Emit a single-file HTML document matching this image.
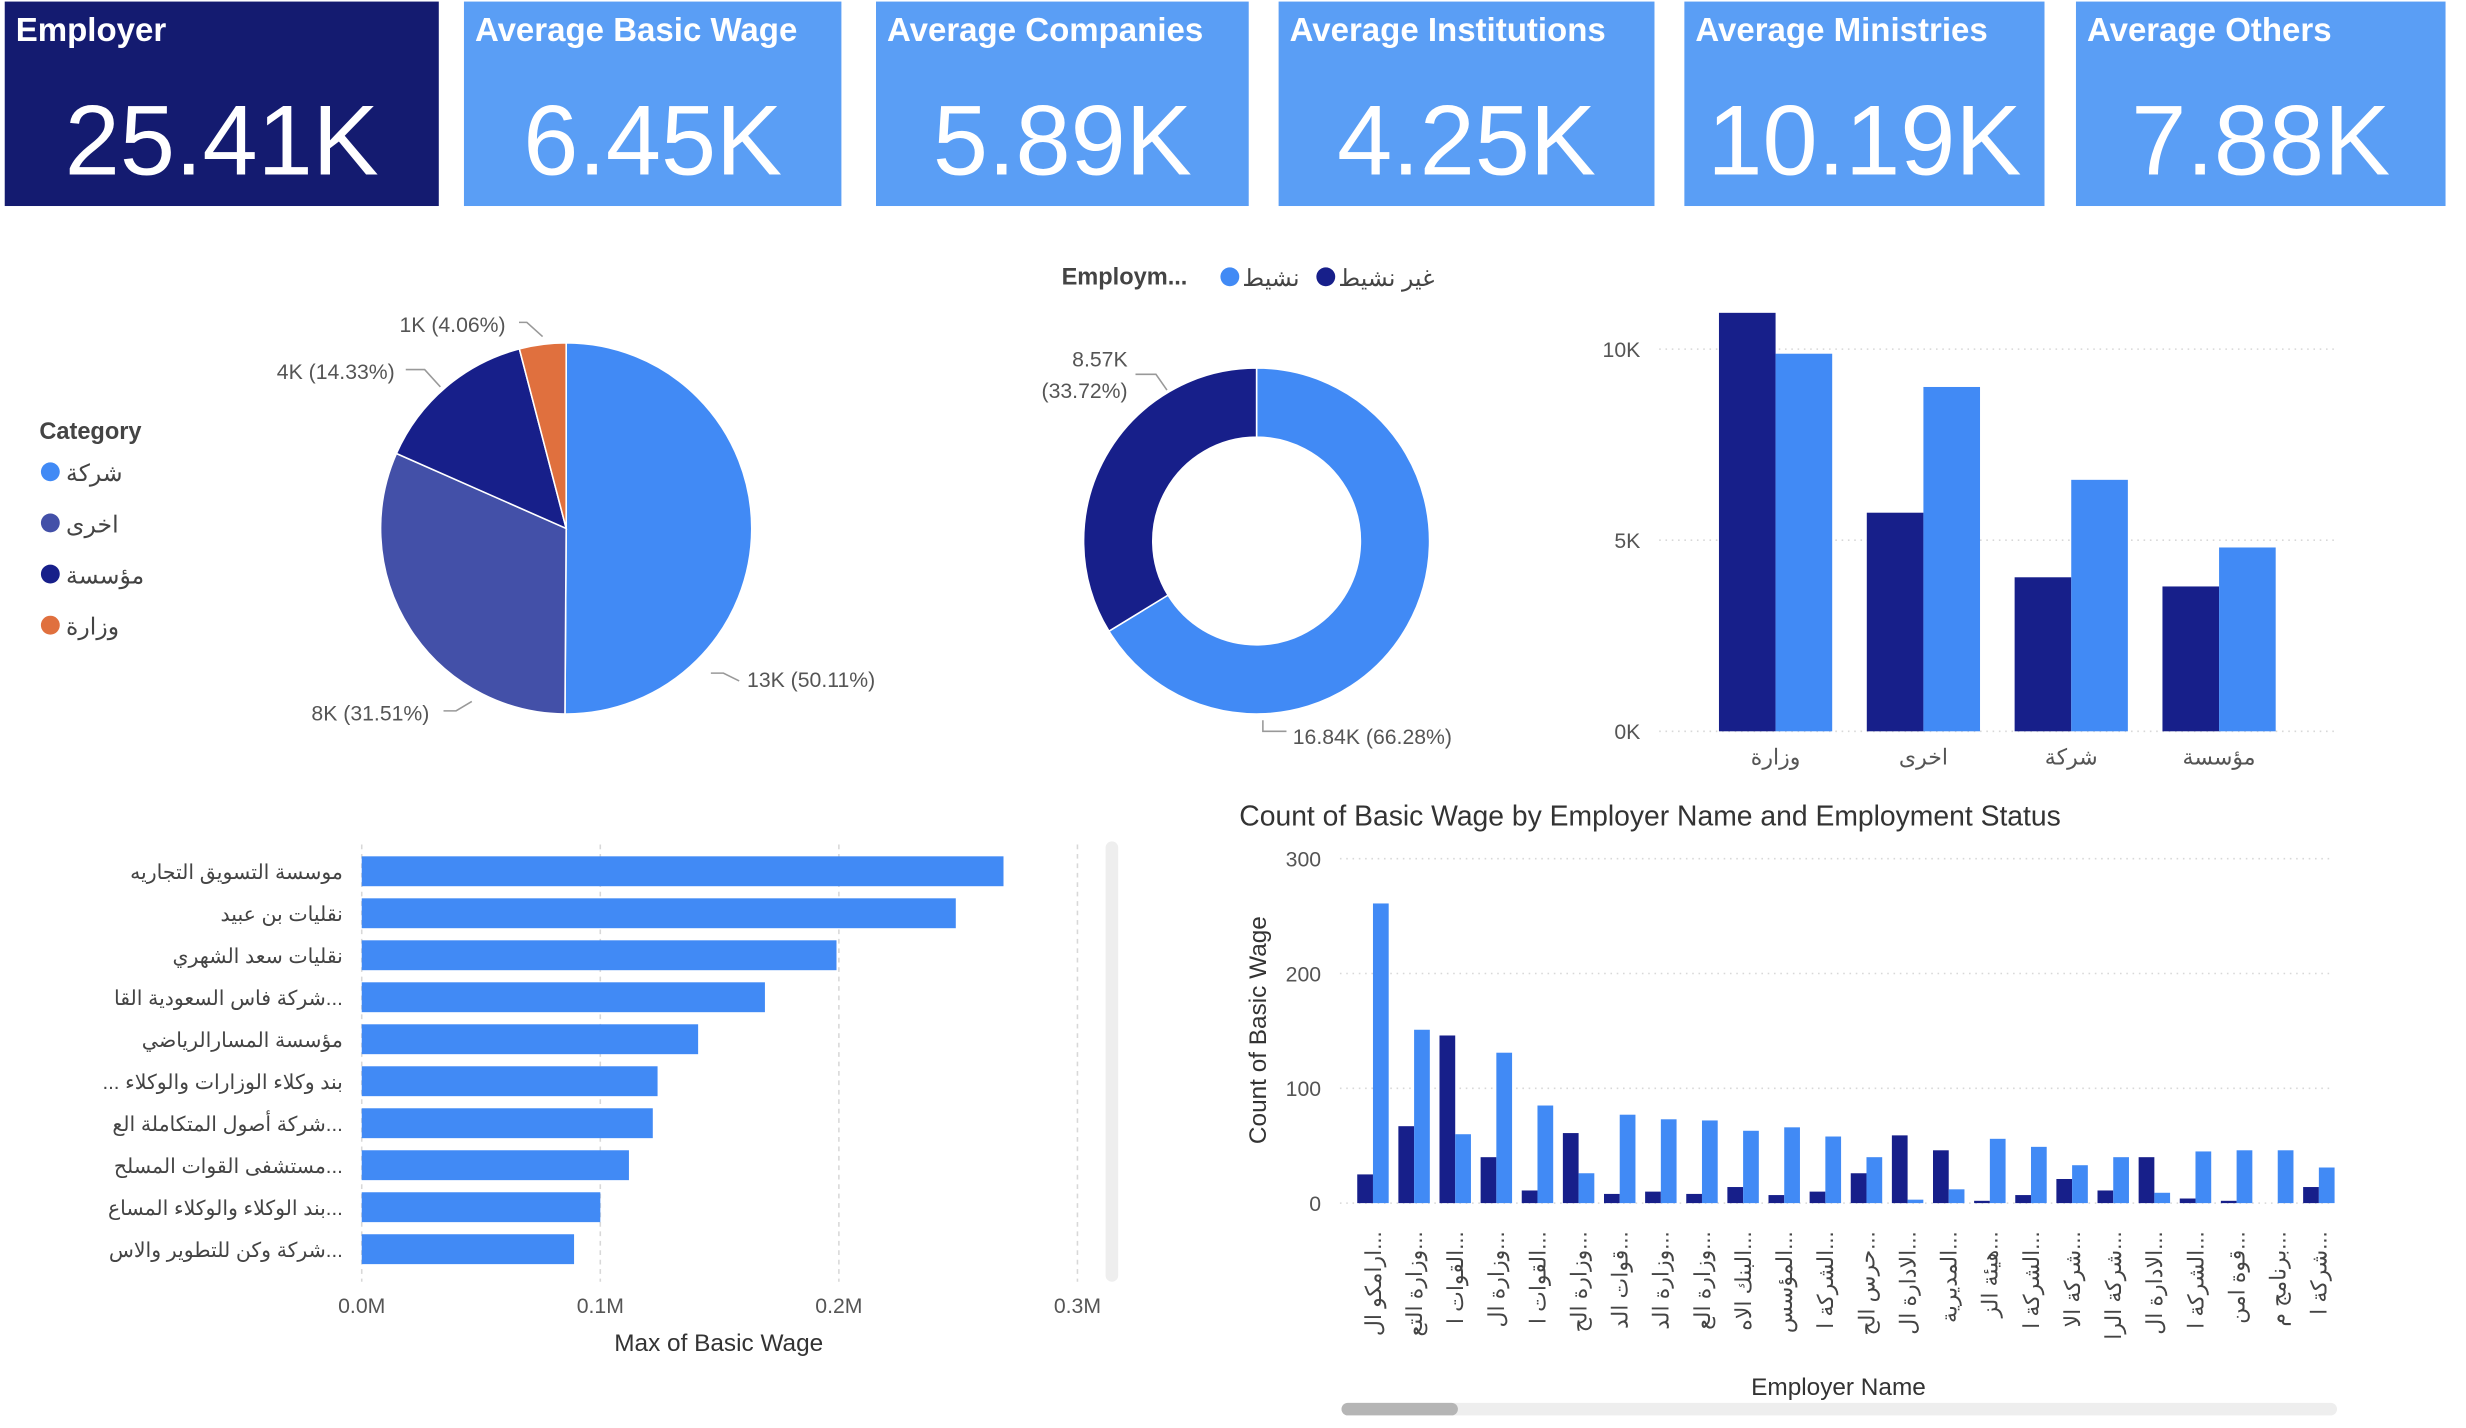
<!DOCTYPE html>
<html><head><meta charset="utf-8"><style>
html,body{margin:0;padding:0;background:#fff;}
svg{display:block;font-family:"Liberation Sans","Noto Sans CJK SC",sans-serif;}
</style></head><body>
<svg id="root" width="2466" height="1428" viewBox="0 0 1568 908" xmlns="http://www.w3.org/2000/svg">
<g id="kpis"></g>
<g id="pie"></g>
<g id="donut"></g>
<g id="col"></g>
<g id="hbar"></g>
<g id="cnt"></g>
</svg>
<script>
// ---- data ----
const kpiTitles=["Employer","Average Basic Wage","Average Companies","Average Institutions","Average Ministries","Average Others"];
const kpiValues=["25.41K","6.45K","5.89K","4.25K","10.19K","7.88K"];
const pieCats=["شركة","اخرى","مؤسسة","وزارة"];
const pieVals=[13,8,4,1];
const piePct=[50.11,31.51,14.33,4.06];
const donutCats=["نشيط","غير نشيط"];
const donutVals=[16.84,8.57];
const donutPct=[66.28,33.72];
const colCats=["وزارة","اخرى","شركة","مؤسسة"];
const colInactive=[10.95,5.72,4.03,3.79];
const colActive=[9.88,9.01,6.58,4.81];
const colTicks=[0,5,10];
const hbarCats=["موسسة التسويق التجاريه","نقليات بن عبيد","نقليات سعد الشهري","شركة فاس السعودية القا...","مؤسسة المسارالرياضي","... بند وكلاء الوزارات والوكلاء","شركة أصول المتكاملة الع...","مستشفى القوات المسلح...","بند الوكلاء والوكلاء المساع...","شركة وكن للتطوير والاس..."];
const hbarVals=[0.269,0.249,0.199,0.169,0.141,0.124,0.122,0.112,0.100,0.089];
const hbarTicks=[0,0.1,0.2,0.3];
const cntCats=["ارامكو ال...","وزارة التع...","القوات ا...","وزارة ال...","القوات ا...","وزارة الح...","قوات الد...","وزارة الد...","وزارة الع...","البنك الاه...","المؤسس...","الشركة ا...","حرس الح...","الادارة ال...","المديرية...","هيئة الز...","الشركة ا...","شركة الا...","شركة الرا...","الادارة ال...","الشركة ا...","قوة امن...","برنامج م...","شركة ا..."];
const cntInactive=[25,67,146,40,11,61,8,10,8,14,7,10,26,59,46,2,7,21,11,40,4,2,0,14];
const cntActive=[261,151,60,131,85,26,77,73,72,63,66,58,40,3,12,56,49,33,40,9,45,46,46,31];
const cntTicks=[0,100,200,300];

const NS="http://www.w3.org/2000/svg";
function mk(parent,tag,attrs,txt){const e=document.createElementNS(NS,tag);for(const k in attrs)e.setAttribute(k,attrs[k]);if(txt!==undefined)e.textContent=txt;parent.appendChild(e);return e;}
const NAVY="#171f8a",BLUE="#418af5",SLATE="#4350a8",ORANGE="#e0703e",GRID="#d8d8d8",TXT="#555";

// KPI cards
const kx=[3,295,557,813,1071,1320],kw=[276,240,237,239,229,235];
const kg=document.getElementById('kpis');
kpiTitles.forEach((t,i)=>{
 const r=mk(kg,'rect',{x:kx[i],y:1,width:kw[i],height:130,fill:i==0?"#141b70":"#5a9ef5"});
 
 
 const tt=mk(kg,'text',{x:kx[i]+7,y:26,fill:"#fff","font-size":21,"font-weight":"bold"},t);
 
 
 const tv=mk(kg,'text',{x:kx[i]+kw[i]/2,y:111,fill:"#fff","font-size":63,"text-anchor":"middle"},kpiValues[i]);
 
 
});

// Pie
(function(){
 const g=document.getElementById('pie');const cx=360,cy=336,R=118;const cols=[BLUE,SLATE,NAVY,ORANGE];
 const tot=piePct.reduce((a,b)=>a+b,0);let a0=0;
 piePct.forEach((p,i)=>{const a1=a0+p/tot*Math.PI*2;
  const x0=cx+R*Math.sin(a0),y0=cy-R*Math.cos(a0),x1=cx+R*Math.sin(a1),y1=cy-R*Math.cos(a1);
  const s=mk(g,'path',{d:`M${cx},${cy}L${x0},${y0}A${R},${R} 0 ${a1-a0>Math.PI?1:0} 1 ${x1},${y1}Z`,fill:cols[i],stroke:"#fff","stroke-width":1});
  
  
  a0=a1;});
 const labs=[[475,437,"start",452,428,470,433],[198,458,"start",282,452,300,446],[176,241,"start",258,235,280,246],[254,211,"start",330,205,345,214]];
 labs.forEach((l,i)=>{mk(g,'polyline',{points:`${l[3]},${l[4]} ${l[5]-10},${l[4]} ${l[5]},${l[6]}`,fill:"none",stroke:"#999","stroke-width":1});
  const t=mk(g,'text',{x:l[0],y:l[1],"font-size":13.5,fill:TXT},pieVals[i]+"K ("+piePct[i].toFixed(2)+"%)");
  
  });
 const lt=mk(g,'text',{x:25,y:279,"font-size":15,"font-weight":"bold",fill:"#444"},"Category");
 
 
 pieCats.forEach((c,i)=>{const y=300+i*32.5;
  const d=mk(g,'circle',{cx:32,cy:y,r:6,fill:cols[i]});
  
  
  const t=mk(g,'text',{x:42,y:y+6,"font-size":15,fill:"#444"},c);
  
  });
})();

// Donut
(function(){
 const g=document.getElementById('donut');const cx=799,cy=344,R=110,r=66;const cols=[BLUE,NAVY];
 const tot=donutVals.reduce((a,b)=>a+b,0);let a0=0;
 donutVals.forEach((v,i)=>{const a1=a0+v/tot*Math.PI*2;
  const p=(rr,a)=>[cx+rr*Math.sin(a),cy-rr*Math.cos(a)];const L=a1-a0>Math.PI?1:0;
  const [x0,y0]=p(R,a0),[x1,y1]=p(R,a1),[x2,y2]=p(r,a1),[x3,y3]=p(r,a0);
  const s=mk(g,'path',{d:`M${x0},${y0}A${R},${R} 0 ${L} 1 ${x1},${y1}L${x2},${y2}A${r},${r} 0 ${L} 0 ${x3},${y3}Z`,fill:cols[i],stroke:"#fff","stroke-width":1});
  
  
  a0=a1;});
 mk(g,'polyline',{points:"803,458 803,465 818,465",fill:"none",stroke:"#999"});
 mk(g,'polyline',{points:"722,238 735,238 742,248",fill:"none",stroke:"#999"});
 const t1=mk(g,'text',{x:822,y:473,"font-size":13.5,fill:TXT},donutVals[0]+"K ("+donutPct[0].toFixed(2)+"%)");
 
 
 const t2=mk(g,'text',{x:717,y:233,"font-size":13.5,fill:TXT,"text-anchor":"end"},donutVals[1]+"K");
 
 
 mk(g,'text',{x:717,y:253,"font-size":13.5,fill:TXT,"text-anchor":"end"},"("+donutPct[1].toFixed(2)+"%)");
 const lt=mk(g,'text',{x:675,y:181,"font-size":15,"font-weight":"bold",fill:"#444"},"Employm...");
 
 
 const lx=[782,843];
 donutCats.forEach((c,i)=>{const d=mk(g,'circle',{cx:lx[i],cy:176,r:6,fill:cols[i]});
  
  
  const t=mk(g,'text',{x:lx[i]+8,y:182,"font-size":15,fill:"#444"},c);
  
  });
})();

// Column chart
(function(){
 const g=document.getElementById('col');const y0=465,k=24.3;const Y=v=>y0-v*k;
 colTicks.forEach(t=>{mk(g,'line',{x1:1055,x2:1485,y1:Y(t),y2:Y(t),stroke:GRID,"stroke-dasharray":"1,3"});
  const tl=mk(g,'text',{x:1043,y:Y(t)+5,"font-size":13.5,fill:TXT,"text-anchor":"end"},t+"K");
  
  });
 colCats.forEach((c,i)=>{const cx=1129+i*94;
  const b1=mk(g,'rect',{x:cx-36,y:Y(colInactive[i]),width:36,height:colInactive[i]*k,fill:NAVY});
  
  
  const b2=mk(g,'rect',{x:cx,y:Y(colActive[i]),width:36,height:colActive[i]*k,fill:BLUE});
  
  
  const t=mk(g,'text',{x:cx,y:486,"font-size":14,fill:TXT,"text-anchor":"middle"},c);
  
  });
})();

// Horizontal bars
(function(){
 const g=document.getElementById('hbar');const x0=230,k=1517;const X=v=>x0+v*k;
 hbarTicks.forEach(t=>{mk(g,'line',{x1:X(t),x2:X(t),y1:537,y2:815,stroke:GRID,"stroke-dasharray":"3,3"});
  const tl=mk(g,'text',{x:X(t),y:835,"font-size":13.5,fill:TXT,"text-anchor":"middle"},t.toFixed(1)+"M");
  
  });
 hbarCats.forEach((c,i)=>{const y=554+i*26.7;
  const b=mk(g,'rect',{x:x0,y:y-9.5,width:hbarVals[i]*k,height:19,fill:BLUE});
  
  
  const t=mk(g,'text',{x:218,y:y+5,"font-size":13,fill:"#444","text-anchor":"end"},c);
  
  });
 const at=mk(g,'text',{x:457,y:859,"font-size":15.5,fill:"#333","text-anchor":"middle"},"Max of Basic Wage");
 
 
 const sb=mk(g,'rect',{x:703,y:535,width:8,height:280,rx:4,fill:"#eeeeee"});
 
 
})();

// Count chart
(function(){
 const g=document.getElementById('cnt');const y0=765,k=0.73;const Y=v=>y0-v*k;
 const tt=mk(g,'text',{x:788,y:525,"font-size":18,fill:"#333"},"Count of Basic Wage by Employer Name and Employment Status");
 
 
 cntTicks.forEach(t=>{mk(g,'line',{x1:852,x2:1482,y1:Y(t),y2:Y(t),stroke:GRID,"stroke-dasharray":"1,3"});
  const tl=mk(g,'text',{x:840,y:Y(t)+5,"font-size":13.5,fill:TXT,"text-anchor":"end"},t);
  
  });
 cntCats.forEach((c,i)=>{const x=863+i*26.15;
  const b1=mk(g,'rect',{x:x,y:Y(cntInactive[i]),width:10,height:cntInactive[i]*k,fill:NAVY});
  
  
  const b2=mk(g,'rect',{x:x+10,y:Y(cntActive[i]),width:10,height:cntActive[i]*k,fill:BLUE});
  
  
  const t=mk(g,'text',{x:0,y:0,"font-size":14,fill:"#444","text-anchor":"end",transform:`translate(${x+15},783) rotate(-90)`},c);
  
  });
 const yt=mk(g,'text',{x:0,y:0,"font-size":15.5,fill:"#333","text-anchor":"middle",transform:"translate(805,655) rotate(-90)"},"Count of Basic Wage");
 
 
 const xt=mk(g,'text',{x:1169,y:887,"font-size":15.5,fill:"#333","text-anchor":"middle"},"Employer Name");
 
 
 const sb=mk(g,'rect',{x:853,y:892,width:633,height:8,rx:4,fill:"#eeeeee"});
 
 
 const th=mk(g,'rect',{x:853,y:892,width:74,height:8,rx:4,fill:"#b5b5b5"});
 
 
})();
</script>
</body></html>
